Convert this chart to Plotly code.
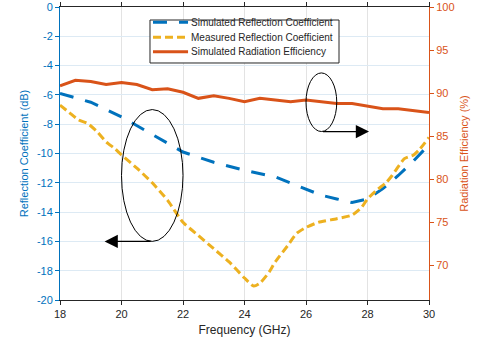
import plotly.graph_objects as go

# Simulated reflection coefficient (dB)
sim_freq = [18.0, 19.0, 20.0, 21.0, 22.0, 23.0, 24.0, 25.0, 25.5, 26.0, 26.5, 27.0, 27.5, 28.0, 28.5, 29.0, 29.5, 30.0]
sim_s11 = [-5.9, -6.5, -7.5, -8.7, -9.9, -10.6, -11.15, -11.6, -12.0, -12.45, -12.85, -13.1, -13.35, -13.1, -12.4, -11.5, -10.5, -9.4]

# Measured reflection coefficient (dB)
meas_freq = [18.0, 18.3, 18.6, 18.9, 19.2, 19.5, 19.8, 20.0, 20.5, 21.0, 21.5, 22.0, 22.5, 23.0, 23.5, 24.0, 24.3,
             24.5, 24.8, 25.0, 25.4, 25.7, 26.0, 26.4, 27.0, 27.5, 27.8, 28.0, 28.3, 28.6, 28.8, 29.0, 29.2, 29.5, 29.7, 30.0]
meas_s11 = [-6.7, -7.2, -7.7, -7.95, -8.5, -9.2, -9.7, -10.1, -11.0, -12.0, -13.2, -14.7, -15.6, -16.5, -17.4, -18.5, -19.05,
            -18.85, -18.1, -17.4, -16.3, -15.45, -15.05, -14.7, -14.45, -14.2, -13.7, -13.1, -12.5, -12.0, -11.5, -10.9, -10.35, -10.1, -9.7, -8.9]

# Simulated radiation efficiency (%)
eff_freq = [18.0, 18.5, 19.0, 19.5, 20.0, 20.5, 21.0, 21.5, 22.0, 22.5, 23.0, 23.5, 24.0, 24.5, 25.0, 25.5, 26.0, 26.5,
            27.0, 27.5, 28.0, 28.5, 29.0, 29.5, 30.0]
eff_pct = [90.85, 91.5, 91.35, 91.0, 91.25, 91.0, 90.4, 90.5, 90.1, 89.4, 89.7, 89.4, 89.0, 89.4, 89.2, 89.0, 89.2, 89.0,
           88.8, 88.8, 88.5, 88.2, 88.2, 88.0, 87.75]

x_ticks = [18, 20, 22, 24, 26, 28, 30]
left_ticks = [0, -2, -4, -6, -8, -10, -12, -14, -16, -18, -20]
left_tick_text = ["0", "-2", "-4", "-6", "-8", "-10", "-12", "-14", "-16", "-18", "-20"]
right_ticks = [70, 75, 80, 85, 90, 95, 100]

series_names = ["Simulated Reflection Coefficient", "Measured Reflection Coefficient", "Simulated Radiation Efficiency"]

BLUE = "#0072BD"
ORANGE = "#D95319"
YELLOW = "#EDB120"
DARK = "#262626"
FONT = "Liberation Sans, Arial, sans-serif"
BLUE_DASH = "14px,12px"
YELLOW_DASH = "8px,4px"

fig = go.Figure()
fig.add_trace(go.Scatter(x=sim_freq, y=sim_s11, mode="lines", name=series_names[0],
                         line=dict(color=BLUE, width=3, dash=BLUE_DASH)))
fig.add_trace(go.Scatter(x=meas_freq, y=meas_s11, mode="lines", name=series_names[1],
                         line=dict(color=YELLOW, width=3, dash=YELLOW_DASH, shape="spline", smoothing=0.6)))
fig.add_trace(go.Scatter(x=eff_freq, y=eff_pct, mode="lines", name=series_names[2],
                         line=dict(color=ORANGE, width=3), yaxis="y2"))

# ellipses marking which axis the curves belong to
fig.add_shape(type="circle", xref="x", yref="y", x0=20.0, x1=22.0, y0=-16.0, y1=-7.0,
              line=dict(color="black", width=1))
fig.add_shape(type="circle", xref="x", yref="y", x0=26.0, x1=27.0, y0=-8.5, y1=-4.5,
              line=dict(color="black", width=1))
fig.add_annotation(x=19.45, y=-16.0, ax=21.0, ay=-16.0, xref="x", yref="y", axref="x", ayref="y",
                   showarrow=True, arrowhead=2, arrowsize=2.2, arrowwidth=1.2, arrowcolor="black", text="")
fig.add_annotation(x=28.05, y=-8.5, ax=26.5, ay=-8.5, xref="x", yref="y", axref="x", ayref="y",
                   showarrow=True, arrowhead=2, arrowsize=2.2, arrowwidth=1.2, arrowcolor="black", text="")

# compact legend box (MATLAB style)
fig.add_shape(type="rect", xref="paper", yref="paper", x0=0.2439, x1=0.7561, y0=0.8089, y1=0.9556,
              line=dict(color=DARK, width=1), fillcolor="white", layer="above")
legend_rows_y = [0.9478, 0.8966, 0.8474]
legend_styles = [(BLUE, BLUE_DASH), (YELLOW, YELLOW_DASH), (ORANGE, "solid")]
for name, ry, (col, dsh) in zip(series_names, legend_rows_y, legend_styles):
    fig.add_shape(type="line", xref="paper", yref="paper", x0=0.252, x1=0.347, y0=ry, y1=ry,
                  line=dict(color=col, width=3, dash=dsh), layer="above")
    fig.add_annotation(x=0.350, y=ry, xref="paper", yref="paper", xanchor="left", yanchor="middle",
                       text=name, showarrow=False, font=dict(size=10, color=DARK, family=FONT))

fig.update_layout(
    width=482, height=350,
    margin=dict(l=60, r=53, t=7, b=50),
    paper_bgcolor="white", plot_bgcolor="white",
    font=dict(family=FONT, size=11, color=DARK),
    showlegend=False,
    xaxis=dict(range=[18, 30], tickvals=x_ticks, ticks="outside", ticklen=4, tickcolor=DARK,
               showline=True, linecolor=DARK, linewidth=1, mirror="ticks", automargin=False,
               showgrid=True, gridcolor="#E3E3E3", gridwidth=1, zeroline=False,
               title=dict(text="Frequency (GHz)", font=dict(size=12, color=DARK), standoff=6),
               tickfont=dict(size=11, color=DARK)),
    yaxis=dict(range=[-20, 0], tickvals=left_ticks, ticktext=left_tick_text, ticks="outside", ticklen=4,
               tickcolor=BLUE, showline=True, linecolor=BLUE, linewidth=1, automargin=False,
               showgrid=True, gridcolor="#DDEAF4", gridwidth=1, zeroline=False,
               title=dict(text="Reflection Coefficient (dB)", font=dict(size=11, color=BLUE), standoff=6),
               tickfont=dict(size=11, color=BLUE)),
    yaxis2=dict(range=[66, 100], tickvals=right_ticks, overlaying="y", side="right",
                ticks="outside", ticklen=4, tickcolor=ORANGE, automargin=False,
                showline=True, linecolor=ORANGE, linewidth=1, showgrid=False, zeroline=False,
                title=dict(text="Radiation Efficiency (%)", font=dict(size=11, color=ORANGE), standoff=6),
                tickfont=dict(size=11, color=ORANGE)),
)

fig.write_html("out.html", config={"displayModeBar": False},
               post_script="document.body.style.margin='0px';")
